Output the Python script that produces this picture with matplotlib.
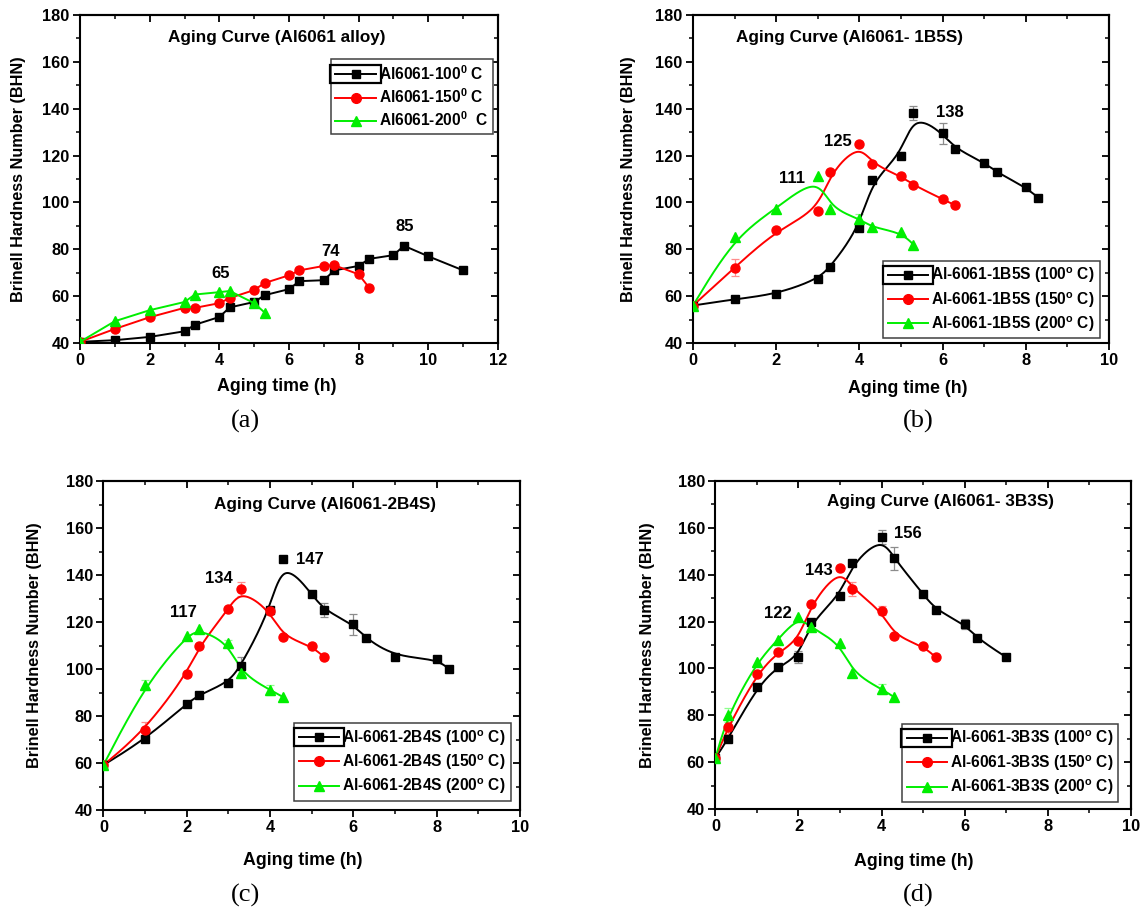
import numpy as np
import matplotlib
matplotlib.use('Agg')
import matplotlib.pyplot as plt
from matplotlib.lines import Line2D
from matplotlib.patches import Rectangle
from matplotlib.ticker import MultipleLocator
from matplotlib.transforms import IdentityTransform

plt.rcParams['font.family'] = ['Liberation Sans', 'DejaVu Sans']
plt.rcParams['font.weight'] = 'bold'
plt.rcParams['mathtext.fontset'] = 'custom'
plt.rcParams['mathtext.rm'] = 'Liberation Sans:bold'
plt.rcParams['mathtext.bf'] = 'Liberation Sans:bold'
plt.rcParams['mathtext.it'] = 'Liberation Sans:bold'

# ---------------- data ----------------
# Panel (a): Al6061 alloy
a_t100 = [0, 1, 2, 3, 3.3, 4, 4.3, 5, 5.3, 6, 6.3, 7, 7.3, 8, 8.3, 9, 9.3, 10, 11]
a_h100 = [40.5, 41.2, 42.6, 45, 47.8, 51.1, 55.2, 57.5, 60.4, 63, 66.4, 66.8, 71, 72.9, 75.9, 77.5, 81.5, 77, 71]
a_t150 = [0, 1, 2, 3, 3.3, 4, 4.3, 5, 5.3, 6, 6.3, 7, 7.3, 8, 8.3]
a_h150 = [40.5, 46, 51, 55, 55, 57, 59.2, 62.6, 65.6, 68.9, 71, 72.9, 73.2, 69.3, 63.6]
a_t200 = [0, 1, 2, 3, 3.3, 4, 4.3, 5, 5.3]
a_h200 = [40.5, 49.3, 54, 57.5, 60.7, 61.7, 62.2, 57, 53]

# Panel (b): Al6061-1B5S
b_t100 = [0, 1, 2, 3, 3.3, 4, 4.3, 5, 5.3, 6, 6.3, 7, 7.3, 8, 8.3]
b_h100 = [56, 58.7, 60.8, 67.2, 72.5, 89.1, 109.5, 120, 138, 129.5, 123, 117, 112.9, 106.4, 102]
b_e100 = [0, 0, 0, 0, 0, 0, 0, 1.5, 3, 4.5, 0, 0, 0, 0, 0]
b_t150 = [0, 1, 2, 3, 3.3, 4, 4.3, 5, 5.3, 6, 6.3]
b_h150 = [56, 72.2, 88.1, 96.4, 112.8, 125, 116.4, 111.2, 107.4, 101.4, 98.8]
b_e150 = [0, 3.5, 0, 0, 0, 0, 0, 0, 0, 0, 0]
b_t200 = [0, 1, 2, 3, 3.3, 4, 4.3, 5, 5.3]
b_h200 = [56, 85.3, 97.4, 111.4, 97.4, 93.1, 89.3, 87.2, 82]
b_e200 = [0, 0, 0, 0, 0, 2, 0, 0, 0]

# Panel (c): Al6061-2B4S
c_t100 = [0, 1, 2, 2.3, 3, 3.3, 4, 4.3, 5, 5.3, 6, 6.3, 7, 8, 8.3]
c_h100 = [59.1, 70.1, 85.2, 89.1, 94.2, 101.3, 125, 146.8, 131.9, 125, 119, 113, 105.2, 104.3, 99.9]
c_e100 = [0, 0, 0, 0, 0, 4, 0, 0, 0, 3, 4.5, 0, 0, 0, 0]
c_t150 = [0, 1, 2, 2.3, 3, 3.3, 4, 4.3, 5, 5.3]
c_h150 = [59.1, 74, 97.9, 109.8, 125.4, 133.9, 124.8, 113.8, 109.8, 105]
c_e150 = [0, 3.5, 0, 0, 0, 3, 0, 0, 0, 0]
c_t200 = [0, 1, 2, 2.3, 3, 3.3, 4, 4.3]
c_h200 = [59.1, 93.2, 114, 117, 111, 98.2, 91.1, 88.2]
c_e200 = [0, 2, 0, 0, 1.5, 2, 2, 0]

# Panel (d): Al6061-3B3S
d_t100 = [0, 0.3, 1, 1.5, 2, 2.3, 3, 3.3, 4, 4.3, 5, 5.3, 6, 6.3, 7]
d_h100 = [61.7, 69.8, 91.9, 100.8, 104.8, 120, 131, 144.9, 156, 147, 131.8, 125, 118.9, 112.9, 104.8]
d_e100 = [0, 0, 0, 0, 2.5, 0, 0, 0, 3, 5, 0, 0, 2, 0, 0]
d_t150 = [0, 0.3, 1, 1.5, 2, 2.3, 3, 3.3, 4, 4.3, 5, 5.3]
d_h150 = [61.7, 74.8, 97.7, 106.8, 111.9, 127.5, 142.8, 133.8, 124.7, 113.9, 109.6, 104.8]
d_e150 = [0, 3, 0, 0, 0, 0, 0, 3, 2, 0, 0, 0]
d_t200 = [0, 0.3, 1, 1.5, 2, 2.3, 3, 3.3, 4, 4.3]
d_h200 = [61.7, 80.2, 102.7, 112.2, 122.1, 117.5, 110.8, 98, 91.2, 87.8]
d_e200 = [0, 3, 0, 0, 0, 0, 0, 0, 2, 0]

titles = ["Aging Curve (Al6061 alloy)", "Aging Curve (Al6061- 1B5S)",
          "Aging Curve (Al6061-2B4S)", "Aging Curve (Al6061- 3B3S)"]
legend_labels = [
    ["Al6061-100$^0$ C", "Al6061-150$^0$ C", "Al6061-200$^0$  C"],
    ["Al-6061-1B5S (100$^o$ C)", "Al-6061-1B5S (150$^o$ C)", "Al-6061-1B5S (200$^o$ C)"],
    ["Al-6061-2B4S (100$^o$ C)", "Al-6061-2B4S (150$^o$ C)", "Al-6061-2B4S (200$^o$ C)"],
    ["Al-6061-3B3S (100$^o$ C)", "Al-6061-3B3S (150$^o$ C)", "Al-6061-3B3S (200$^o$ C)"],
]
peak_labels = [["65", "74", "85"], ["111", "125", "138"], ["117", "134", "147"], ["122", "143", "156"]]
panel_tags = ["(a)", "(b)", "(c)", "(d)"]
x_max = [12, 10, 10, 10]

# ---------------- layout ----------------
W, H = 1142, 909
axes_px = [(80, 498, 15, 343), (693, 1109, 15, 343), (103.4, 520, 481, 810), (715.4, 1130.8, 481, 809)]
title_pos = [(5.64, 170.5), (3.76, 170.5), (5.32, 170.1), (5.43, 171.3)]
peak_pos = [[(4.05, 69.6), (7.18, 78.9), (9.33, 89.9)],
            [(2.37, 110.2), (3.49, 125.9), (6.17, 138.3)],
            [(1.92, 124.1), (2.78, 138.6), (4.96, 146.7)],
            [(1.5, 123.6), (2.48, 141.8), (4.64, 157.7)]]
legend_anchor = [(7.2, 161.1), (4.57, 75.0), (4.58, 76.9), (4.49, 76.2)]
ylabel_x = [-0.129, -0.136, -0.147, -0.146]
xlabel_pos = [(0.47, -0.107), (0.516, -0.113), (0.479, -0.127), (0.478, -0.134)]
tag_pos = [(245.5, 421.7), (917.8, 421.7), (245.5, 895), (917.8, 895)]

colors = ['#000000', '#ff0000', '#00ee00']
ecolors = ['#8c8c8c', '#ff8c8c', '#8cff8c']
markers = ['s', 'o', '^']
msizes = [5.5, 6.5, 7]


def bspline(xs, ys, n=40):
    P = np.column_stack([xs, ys]).astype(float)
    Q = np.vstack([P[0], P[0], P, P[-1], P[-1]])
    t = np.linspace(0, 1, n, endpoint=False)[:, None]
    b0 = (1 - t) ** 3 / 6
    b1 = (3 * t ** 3 - 6 * t ** 2 + 4) / 6
    b2 = (-3 * t ** 3 + 3 * t ** 2 + 3 * t + 1) / 6
    b3 = t ** 3 / 6
    segs = [b0 * Q[i] + b1 * Q[i + 1] + b2 * Q[i + 2] + b3 * Q[i + 3] for i in range(len(Q) - 3)]
    segs.append(P[-1][None, :])
    C = np.vstack(segs)
    return C[:, 0], C[:, 1]


series = [
    [(a_t100, a_h100, None), (a_t150, a_h150, None), (a_t200, a_h200, None)],
    [(b_t100, b_h100, b_e100), (b_t150, b_h150, b_e150), (b_t200, b_h200, b_e200)],
    [(c_t100, c_h100, c_e100), (c_t150, c_h150, c_e150), (c_t200, c_h200, c_e200)],
    [(d_t100, d_h100, d_e100), (d_t150, d_h150, d_e150), (d_t200, d_h200, d_e200)],
]

fig = plt.figure(figsize=(W / 100, H / 100), dpi=100)
legends = []
for k in range(4):
    l, r, tp, bt = axes_px[k]
    ax = fig.add_axes([l / W, 1 - bt / H, (r - l) / W, (bt - tp) / H])
    for j, (xs, ys, es) in enumerate(series[k]):
        if k == 0:
            ax.plot(xs, ys, color=colors[j], lw=1.4, marker=markers[j], ms=msizes[j],
                    mec=colors[j], mfc=colors[j], zorder=3)
        else:
            sx, sy = bspline(xs, ys)
            ax.plot(sx, sy, color=colors[j], lw=1.4, zorder=3)
            if es is not None:
                ex = [x for x, e in zip(xs, es) if e > 0]
                ey = [y for y, e in zip(ys, es) if e > 0]
                ee = [e for e in es if e > 0]
                ax.errorbar(ex, ey, yerr=ee, fmt='none', ecolor=ecolors[j], elinewidth=0.9,
                            capsize=3, capthick=0.9, zorder=2)
            ax.plot(xs, ys, ls='none', marker=markers[j], ms=msizes[j], mec=colors[j],
                    mfc=colors[j], zorder=4)
    ax.set_xlim(0, x_max[k])
    ax.set_ylim(40, 180)
    ax.xaxis.set_major_locator(MultipleLocator(2))
    ax.xaxis.set_minor_locator(MultipleLocator(1))
    ax.yaxis.set_major_locator(MultipleLocator(20))
    ax.yaxis.set_minor_locator(MultipleLocator(10))
    ax.tick_params(which='major', direction='out', length=5, width=1.3, labelsize=11.8, pad=2.5)
    ax.tick_params(which='minor', direction='out', length=3, width=1.1)
    for lab in ax.get_xticklabels() + ax.get_yticklabels():
        lab.set_fontweight('bold')
    for sp in ax.spines.values():
        sp.set_linewidth(1.5)
    secx = ax.secondary_xaxis('top')
    secx.xaxis.set_major_locator(MultipleLocator(2))
    secx.xaxis.set_minor_locator(MultipleLocator(1))
    secx.tick_params(which='major', direction='in', length=5, width=1.3, labeltop=False)
    secx.tick_params(which='minor', direction='in', length=3, width=1.1)
    secx.spines['top'].set_linewidth(1.5)
    secy = ax.secondary_yaxis('right')
    secy.yaxis.set_major_locator(MultipleLocator(20))
    secy.yaxis.set_minor_locator(MultipleLocator(10))
    secy.tick_params(which='major', direction='in', length=5, width=1.3, labelright=False)
    secy.tick_params(which='minor', direction='in', length=3, width=1.1)
    secy.spines['right'].set_linewidth(1.5)

    ax.set_xlabel("Aging time (h)", fontsize=12.8, fontweight='bold')
    ax.set_ylabel("Brinell Hardness Number (BHN)", fontsize=11.7, fontweight='bold')
    ax.yaxis.set_label_coords(ylabel_x[k], 0.5)
    ax.xaxis.set_label_coords(*xlabel_pos[k])

    ax.text(title_pos[k][0], title_pos[k][1], titles[k], fontsize=12.3, fontweight='bold',
            ha='center', va='center')
    for lab, (px, py) in zip(peak_labels[k], peak_pos[k]):
        ax.text(px, py, lab, fontsize=12, fontweight='bold', ha='center', va='center')

    handles = [Line2D([], [], color=colors[j], lw=1.4, marker=markers[j], ms=msizes[j] + 0.5,
                      mec=colors[j], mfc=colors[j]) for j in range(3)]
    leg = ax.legend(handles, legend_labels[k], loc='upper left',
                    bbox_to_anchor=legend_anchor[k], bbox_transform=ax.transData,
                    borderaxespad=0, frameon=True, fancybox=False,
                    edgecolor='#404040', framealpha=1, handlelength=2.6,
                    handletextpad=0.2, labelspacing=0.3, borderpad=0.3,
                    prop={'weight': 'bold', 'size': 11.2})
    leg.get_frame().set_linewidth(1.1)
    legends.append(leg)

    fig.text(tag_pos[k][0] / W, 1 - tag_pos[k][1] / H, panel_tags[k],
             family=['Liberation Serif', 'DejaVu Serif'], fontweight='normal', fontsize=19,
             ha='center', va='center')

# Box around first legend handle (as in the original figure)
fig.canvas.draw()
renderer = fig.canvas.get_renderer()
for leg in legends:
    h0 = leg.legend_handles[0]
    bb = h0.get_window_extent(renderer)
    cy = 0.5 * (bb.y0 + bb.y1)
    rect = Rectangle((bb.x0 - 1, cy - 9), bb.width + 2, 18, fill=False, ec='black', lw=1.6,
                     transform=IdentityTransform())
    fig.patches.append(rect)
    rect.set_figure(fig)

fig.savefig('out.png', dpi=100)
